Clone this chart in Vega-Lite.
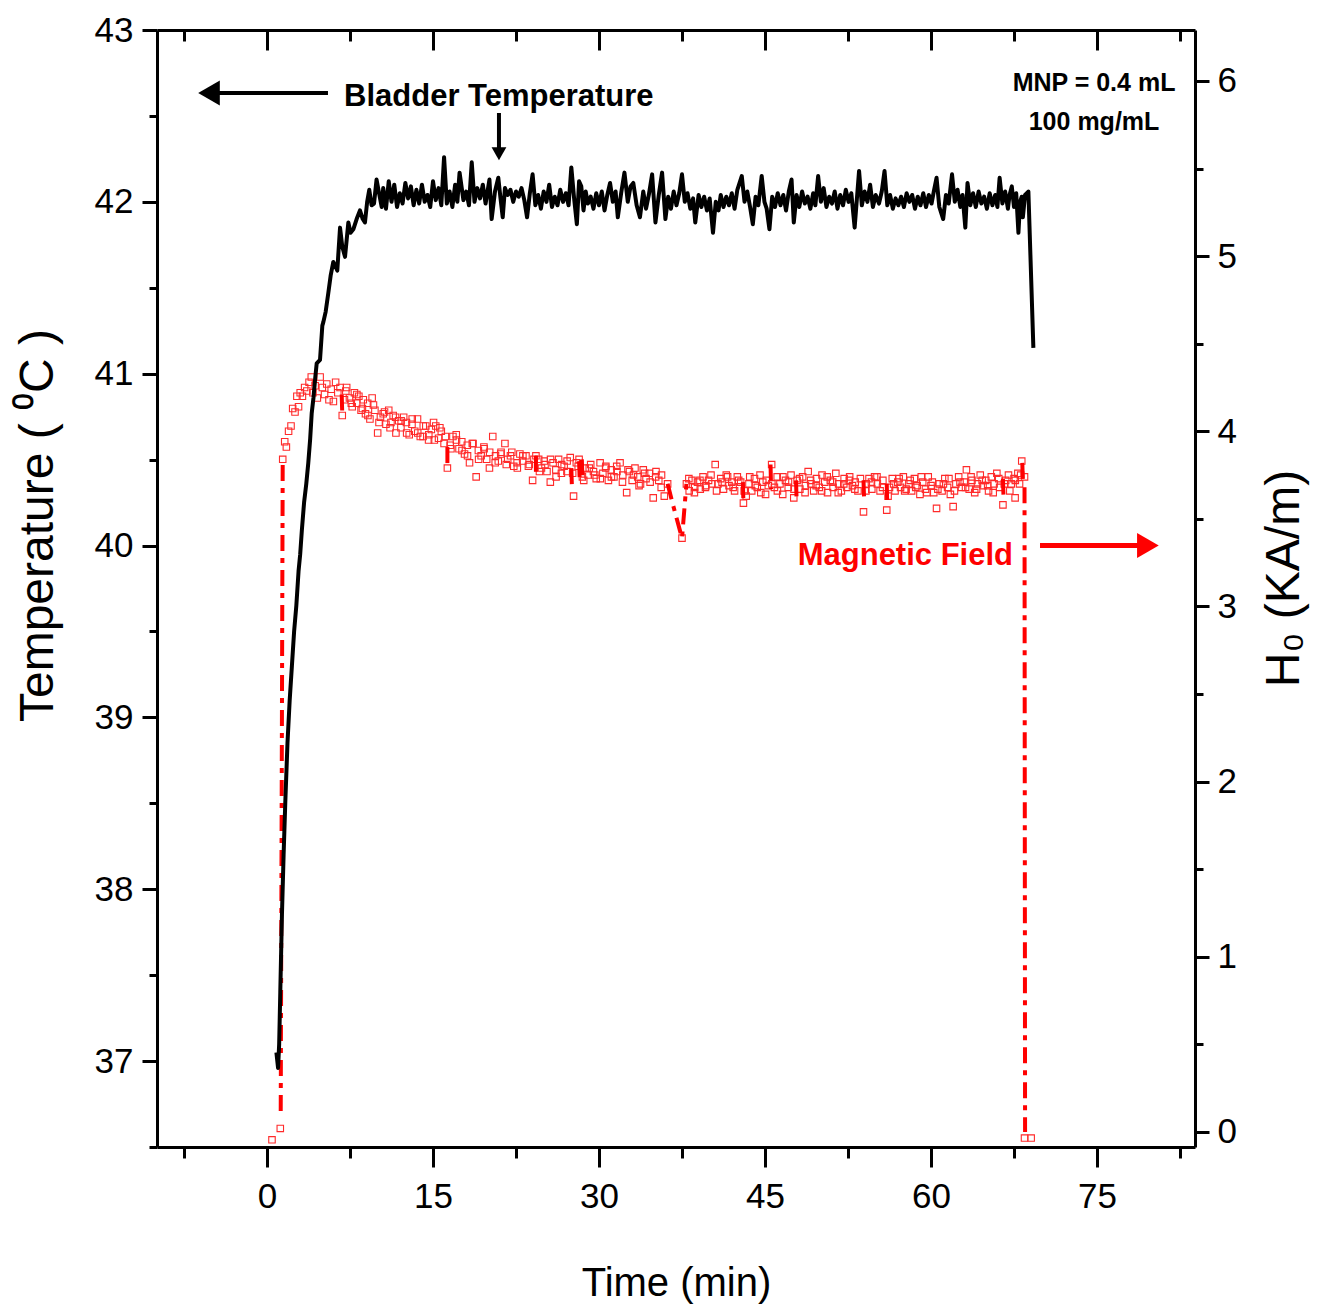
{
"$schema": "https://vega.github.io/schema/vega-lite/v6.json",
"width": 1038, "height": 1117,
"autosize": "none",
"padding": {"left": 157, "top": 30, "right": 131, "bottom": 160},
"background": "white",
"config": {
  "view": {"stroke": null},
  "axis": {"grid": false, "domainColor": "black", "domainWidth": 3, "tickColor": "black", "tickWidth": 3,
    "labelColor": "black", "labelFont": "Liberation Sans, Arial, sans-serif", "labelFontSize": 35,
    "titleColor": "black", "titleFont": "Liberation Sans, Arial, sans-serif", "titleFontWeight": "normal", "titleFontSize": 48}
},
"datasets": {
  "temp": [
    {"t":0.85,"T":37.05},{"t":1.0,"T":36.96},{"t":1.1,"T":37.1},{"t":1.2,"T":37.4},{"t":1.35,"T":37.85},{"t":1.5,"T":38.2},{"t":1.65,"T":38.5},{"t":1.85,"T":38.85},{"t":2.05,"T":39.1},{"t":2.25,"T":39.3},{"t":2.45,"T":39.5},{"t":2.65,"T":39.65},{"t":2.85,"T":39.85},{"t":3.0,"T":39.95},{"t":3.15,"T":40.09},{"t":3.35,"T":40.25},{"t":3.55,"T":40.36},{"t":3.73,"T":40.48},{"t":3.9,"T":40.62},{"t":4.04,"T":40.77},{"t":4.2,"T":40.86},{"t":4.35,"T":40.97},{"t":4.49,"T":41.06},{"t":4.79,"T":41.08},{"t":5.0,"T":41.28},{"t":5.09,"T":41.3},{"t":5.3,"T":41.36},{"t":5.54,"T":41.47},{"t":5.75,"T":41.57},{"t":5.99,"T":41.65},{"t":6.15,"T":41.63},{"t":6.35,"T":41.6},{"t":6.6,"T":41.85},{"t":6.8,"T":41.74},{"t":7.05,"T":41.68},{"t":7.35,"T":41.88},{"t":7.55,"T":41.82},{"t":7.8,"T":41.84},{"t":8.1,"T":41.9},{"t":8.4,"T":41.95},{"t":8.65,"T":41.9},{"t":8.85,"T":41.88},{"t":9.05,"T":42.0},{"t":9.24,"T":42.07},{"t":9.45,"T":41.98},{"t":9.67,"T":41.99},{"t":9.9,"T":42.13},{"t":10.1,"T":42.06},{"t":10.36,"T":41.97},
    {"t":10.5,"T":42.08},{"t":10.75,"T":41.96},{"t":11.0,"T":42.12},{"t":11.25,"T":42.0},{"t":11.5,"T":42.1},{"t":11.75,"T":41.97},{"t":12.0,"T":42.05},{"t":12.25,"T":41.99},{"t":12.5,"T":42.11},{"t":12.75,"T":42.02},{"t":13.0,"T":42.09},{"t":13.25,"T":41.98},{"t":13.5,"T":42.07},{"t":13.75,"T":41.99},{"t":14.0,"T":42.1},{"t":14.25,"T":42.0},{"t":14.5,"T":42.04},{"t":14.75,"T":41.97},{"t":15.0,"T":42.12},{"t":15.25,"T":42.01},{"t":15.5,"T":42.08},{"t":15.75,"T":41.98},{"t":16.0,"T":42.26},{"t":16.25,"T":41.99},{"t":16.5,"T":42.06},{"t":16.75,"T":41.97},{"t":17.0,"T":42.1},{"t":17.2,"T":42.0},{"t":17.4,"T":42.17},{"t":17.75,"T":42.01},{"t":18.0,"T":42.06},{"t":18.25,"T":41.98},{"t":18.5,"T":42.23},{"t":18.75,"T":42.0},{"t":19.0,"T":42.08},{"t":19.25,"T":42.02},{"t":19.5,"T":42.1},{"t":19.75,"T":41.99},{"t":20.1,"T":42.13},{"t":20.3,"T":41.9},{"t":20.6,"T":42.06},{"t":20.9,"T":42.14},{"t":21.1,"T":42.02},{"t":21.3,"T":41.91},{"t":21.5,"T":42.08},{"t":21.75,"T":42.04},{"t":22.0,"T":42.07},{"t":22.25,"T":42.0},{"t":22.5,"T":42.06},{"t":22.75,"T":42.03},{"t":23.0,"T":42.08},{"t":23.25,"T":42.01},{"t":23.5,"T":41.91},{"t":23.75,"T":42.05},{"t":24.0,"T":42.16},{"t":24.25,"T":41.98},{"t":24.5,"T":42.04},{"t":24.75,"T":41.96},{"t":25.0,"T":42.06},{"t":25.25,"T":42.0},{"t":25.5,"T":42.1},{"t":25.75,"T":41.97},{"t":26.0,"T":42.03},{"t":26.25,"T":41.98},{"t":26.5,"T":42.07},{"t":26.75,"T":42.0},{"t":27.0,"T":42.05},{"t":27.25,"T":41.98},{"t":27.5,"T":42.2},{"t":27.75,"T":42.02},{"t":28.0,"T":41.87},{"t":28.2,"T":42.12},{"t":28.4,"T":42.09},{"t":28.6,"T":41.95},{"t":28.8,"T":42.06},{"t":29.0,"T":41.99},{"t":29.25,"T":42.03},{"t":29.5,"T":41.96},{"t":29.75,"T":42.05},{"t":30.0,"T":41.98},{"t":30.25,"T":42.06},{"t":30.5,"T":41.95},{"t":30.75,"T":42.04},{"t":31.0,"T":42.11},{"t":31.25,"T":42.0},{"t":31.5,"T":42.06},{"t":31.7,"T":41.91},{"t":32.0,"T":42.05},{"t":32.3,"T":42.17},{"t":32.6,"T":42.0},{"t":32.85,"T":42.09},{"t":33.1,"T":42.11},{"t":33.4,"T":41.98},{"t":33.7,"T":41.91},{"t":34.0,"T":42.06},{"t":34.25,"T":41.96},{"t":34.5,"T":42.04},{"t":34.8,"T":42.16},{"t":35.1,"T":41.88},{"t":35.4,"T":42.04},{"t":35.7,"T":42.17},{"t":36.0,"T":41.9},{"t":36.25,"T":42.03},{"t":36.5,"T":41.96},{"t":36.75,"T":42.06},{"t":37.0,"T":41.98},{"t":37.25,"T":42.05},{"t":37.5,"T":42.16},{"t":37.75,"T":42.0},{"t":38.0,"T":42.05},{"t":38.25,"T":41.96},{"t":38.5,"T":42.02},{"t":38.7,"T":41.88},{"t":39.0,"T":42.04},{"t":39.25,"T":41.97},{"t":39.5,"T":42.03},{"t":39.75,"T":41.95},{"t":40.0,"T":42.02},{"t":40.3,"T":41.82},{"t":40.55,"T":42.0},{"t":40.8,"T":41.95},{"t":41.0,"T":42.04},{"t":41.25,"T":41.97},{"t":41.5,"T":42.03},{"t":41.75,"T":41.98},{"t":42.0,"T":42.05},{"t":42.25,"T":41.96},{"t":42.5,"T":42.07},{"t":42.9,"T":42.15},{"t":43.15,"T":42.0},{"t":43.4,"T":42.06},{"t":43.65,"T":41.97},{"t":43.9,"T":41.87},{"t":44.15,"T":42.03},{"t":44.4,"T":41.98},{"t":44.7,"T":42.15},{"t":44.95,"T":42.0},{"t":45.15,"T":41.96},{"t":45.4,"T":41.84},{"t":45.65,"T":42.03},{"t":45.9,"T":41.97},{"t":46.15,"T":42.05},{"t":46.4,"T":41.98},{"t":46.65,"T":42.04},{"t":46.9,"T":41.95},{"t":47.15,"T":42.06},{"t":47.4,"T":42.13},{"t":47.6,"T":41.88},{"t":47.85,"T":42.04},{"t":48.1,"T":41.97},{"t":48.35,"T":42.06},{"t":48.6,"T":41.99},{"t":48.85,"T":42.03},{"t":49.1,"T":41.96},{"t":49.35,"T":42.05},{"t":49.55,"T":41.98},{"t":49.8,"T":42.15},{"t":50.05,"T":42.0},{"t":50.3,"T":42.08},{"t":50.55,"T":41.97},{"t":50.8,"T":42.03},{"t":51.05,"T":41.99},{"t":51.3,"T":42.06},{"t":51.55,"T":41.96},{"t":51.8,"T":42.04},{"t":52.05,"T":41.98},{"t":52.3,"T":42.07},{"t":52.55,"T":42.0},{"t":52.8,"T":42.05},{"t":53.1,"T":41.85},{"t":53.5,"T":42.18},{"t":53.75,"T":41.98},{"t":54.0,"T":42.06},{"t":54.25,"T":42.0},{"t":54.5,"T":42.1},{"t":54.75,"T":41.97},{"t":55.0,"T":42.04},{"t":55.3,"T":41.99},{"t":55.55,"T":42.06},{"t":55.8,"T":42.18},{"t":56.05,"T":41.98},{"t":56.3,"T":42.04},{"t":56.55,"T":41.96},{"t":56.8,"T":42.02},{"t":57.05,"T":41.98},{"t":57.3,"T":42.03},{"t":57.55,"T":41.97},{"t":57.8,"T":42.05},{"t":58.05,"T":42.0},{"t":58.3,"T":42.04},{"t":58.55,"T":41.96},{"t":58.8,"T":42.03},{"t":59.05,"T":41.98},{"t":59.3,"T":42.05},{"t":59.55,"T":41.97},{"t":59.8,"T":42.04},{"t":60.05,"T":41.99},{"t":60.25,"T":42.06},{"t":60.5,"T":42.14},{"t":60.75,"T":41.97},{"t":61.1,"T":41.9},{"t":61.35,"T":42.04},{"t":61.6,"T":41.99},{"t":61.9,"T":42.16},{"t":62.15,"T":42.0},{"t":62.4,"T":42.07},{"t":62.65,"T":41.97},{"t":62.85,"T":42.04},{"t":63.1,"T":41.85},{"t":63.3,"T":42.11},{"t":63.55,"T":41.98},{"t":63.8,"T":42.05},{"t":64.05,"T":41.97},{"t":64.3,"T":42.06},{"t":64.55,"T":41.99},{"t":64.8,"T":42.03},{"t":65.05,"T":41.96},{"t":65.3,"T":42.05},{"t":65.55,"T":41.98},{"t":65.8,"T":42.04},{"t":66.0,"T":41.97},{"t":66.2,"T":42.14},{"t":66.45,"T":41.99},{"t":66.7,"T":42.06},{"t":66.95,"T":41.96},{"t":67.1,"T":42.04},{"t":67.3,"T":42.09},{"t":67.5,"T":41.97},{"t":67.7,"T":42.05},{"t":67.9,"T":41.82},{"t":68.05,"T":42.0},{"t":68.2,"T":42.03},{"t":68.3,"T":41.91},{"t":68.5,"T":42.04},{"t":68.8,"T":42.06},{"t":69.25,"T":41.15}
  ],
  "field": [
    {"t":0.45,"H":-0.045},{"t":1.2,"H":0.02},{"t":1.42,"H":3.84},{"t":1.6,"H":3.94},{"t":1.75,"H":3.91},{"t":1.95,"H":4.0},{"t":2.17,"H":4.03},{"t":2.32,"H":4.13},{"t":2.53,"H":4.11},{"t":2.7,"H":4.2},{"t":2.85,"H":4.14},{"t":3.0,"H":4.22},{"t":3.2,"H":4.2},{"t":3.4,"H":4.25},{"t":3.6,"H":4.23},{"t":3.8,"H":4.28},{"t":4.0,"H":4.31},{"t":4.15,"H":4.22},{"t":4.35,"H":4.26},{"t":4.55,"H":4.19},{"t":4.8,"H":4.31},{"t":5.0,"H":4.25},{"t":5.2,"H":4.21},{"t":5.4,"H":4.27},{"t":5.6,"H":4.18},{"t":5.8,"H":4.24},{"t":6.0,"H":4.17},{"t":6.2,"H":4.28},{"t":6.4,"H":4.22},{"t":6.6,"H":4.25},{"t":6.8,"H":4.09},{"t":7.0,"H":4.18},{"t":7.2,"H":4.25},{"t":7.45,"H":4.19},{"t":7.7,"H":4.14},{"t":7.9,"H":4.22},{"t":8.1,"H":4.16},{"t":8.3,"H":4.2},{"t":8.5,"H":4.12},{"t":8.7,"H":4.18},{"t":8.9,"H":4.1},{"t":9.1,"H":4.16},{"t":9.3,"H":4.07},{"t":9.5,"H":4.19},{"t":9.75,"H":4.12},{"t":10.0,"H":3.99},{"t":10.25,"H":4.08},{"t":10.5,"H":4.1},{"t":10.75,"H":4.04},{"t":11.0,"H":4.12},{"t":11.2,"H":4.05},{"t":11.4,"H":4.09},{"t":11.65,"H":3.99},{"t":11.9,"H":4.06},{"t":12.1,"H":4.02},{"t":12.35,"H":4.08},{"t":12.6,"H":4.05},{"t":12.85,"H":3.98},{"t":13.1,"H":4.04},{"t":13.35,"H":4.0},{"t":13.6,"H":4.07},{"t":13.85,"H":3.97},{"t":14.1,"H":3.97},{"t":14.35,"H":4.03},{"t":14.6,"H":3.95},{"t":14.85,"H":4.01},{"t":15.05,"H":4.05},{"t":15.25,"H":4.03},{"t":15.5,"H":3.96},{"t":15.75,"H":4.0},{"t":16.0,"H":3.93},{"t":16.3,"H":3.79},{"t":16.55,"H":3.92},{"t":16.8,"H":3.97},{"t":17.1,"H":3.98},{"t":17.35,"H":3.9},{"t":17.6,"H":3.94},{"t":17.85,"H":3.87},{"t":18.1,"H":3.92},{"t":18.3,"H":3.82},{"t":18.55,"H":3.93},{"t":18.9,"H":3.74},{"t":19.1,"H":3.89},{"t":19.35,"H":3.86},{"t":19.6,"H":3.91},{"t":19.85,"H":3.84},{"t":20.1,"H":3.79},{"t":20.4,"H":3.97},{"t":20.65,"H":3.86},{"t":20.9,"H":3.83},{"t":21.15,"H":3.88},{"t":21.5,"H":3.93},{"t":21.75,"H":3.84},{"t":22.0,"H":3.86},{"t":22.3,"H":3.8},{"t":22.6,"H":3.82},{"t":22.85,"H":3.87},{"t":23.1,"H":3.83},{"t":23.4,"H":3.86},{"t":23.7,"H":3.81},{"t":24.0,"H":3.72},{"t":24.3,"H":3.86},{"t":24.55,"H":3.84},{"t":24.8,"H":3.79},{"t":25.05,"H":3.83},{"t":25.3,"H":3.77},{"t":25.6,"H":3.71},{"t":25.85,"H":3.82},{"t":26.1,"H":3.78},{"t":26.35,"H":3.84},{"t":26.6,"H":3.76},{"t":26.85,"H":3.8},{"t":27.1,"H":3.77},{"t":27.4,"H":3.85},{"t":27.7,"H":3.63},{"t":27.95,"H":3.82},{"t":28.2,"H":3.84},{"t":28.5,"H":3.74},{"t":28.75,"H":3.79},{"t":29.0,"H":3.75},{"t":29.25,"H":3.81},{"t":29.5,"H":3.77},{"t":29.75,"H":3.73},{"t":30.1,"H":3.82},{"t":30.35,"H":3.76},{"t":30.6,"H":3.79},{"t":30.85,"H":3.72},{"t":31.1,"H":3.78},{"t":31.35,"H":3.74},{"t":31.6,"H":3.8},{"t":31.9,"H":3.82},{"t":32.15,"H":3.75},{"t":32.5,"H":3.65},{"t":32.75,"H":3.77},{"t":33.0,"H":3.72},{"t":33.25,"H":3.79},{"t":33.5,"H":3.74},{"t":33.75,"H":3.7},{"t":34.0,"H":3.78},{"t":34.25,"H":3.73},{"t":34.55,"H":3.76},{"t":34.9,"H":3.62},{"t":35.15,"H":3.77},{"t":35.4,"H":3.72},{"t":35.65,"H":3.75},{"t":35.9,"H":3.63},{"t":36.2,"H":3.7},{"t":37.5,"H":3.39},{"t":37.9,"H":3.7},{"t":38.15,"H":3.66},{"t":38.4,"H":3.72},{"t":38.65,"H":3.68},{"t":38.9,"H":3.71},{"t":39.15,"H":3.67},{"t":39.4,"H":3.74},{"t":39.65,"H":3.69},{"t":39.9,"H":3.72},{"t":40.2,"H":3.7},{"t":40.5,"H":3.81},{"t":40.75,"H":3.7},{"t":41.0,"H":3.73},{"t":41.25,"H":3.67},{"t":41.5,"H":3.75},{"t":41.75,"H":3.69},{"t":42.0,"H":3.71},{"t":42.25,"H":3.66},{"t":42.5,"H":3.74},{"t":42.8,"H":3.71},{"t":43.05,"H":3.59},{"t":43.3,"H":3.63},{"t":43.55,"H":3.7},{"t":43.8,"H":3.66},{"t":44.05,"H":3.73},{"t":44.3,"H":3.68},{"t":44.55,"H":3.75},{"t":44.8,"H":3.71},{"t":45.05,"H":3.64},{"t":45.3,"H":3.69},{"t":45.6,"H":3.81},{"t":45.85,"H":3.68},{"t":46.1,"H":3.74},{"t":46.35,"H":3.7},{"t":46.6,"H":3.64},{"t":46.85,"H":3.72},{"t":47.1,"H":3.68},{"t":47.35,"H":3.75},{"t":47.6,"H":3.62},{"t":47.9,"H":3.72},{"t":48.15,"H":3.67},{"t":48.4,"H":3.74},{"t":48.65,"H":3.69},{"t":48.9,"H":3.77},{"t":49.15,"H":3.7},{"t":49.4,"H":3.66},{"t":49.65,"H":3.73},{"t":49.9,"H":3.68},{"t":50.15,"H":3.75},{"t":50.4,"H":3.71},{"t":50.65,"H":3.65},{"t":50.9,"H":3.72},{"t":51.15,"H":3.68},{"t":51.4,"H":3.76},{"t":51.65,"H":3.7},{"t":51.9,"H":3.66},{"t":52.15,"H":3.73},{"t":52.4,"H":3.68},{"t":52.65,"H":3.74},{"t":52.9,"H":3.69},{"t":53.15,"H":3.71},{"t":53.4,"H":3.66},{"t":53.9,"H":3.54},{"t":54.15,"H":3.7},{"t":54.4,"H":3.73},{"t":54.65,"H":3.67},{"t":54.9,"H":3.74},{"t":55.15,"H":3.7},{"t":55.4,"H":3.66},{"t":55.65,"H":3.72},{"t":56.0,"H":3.55},{"t":56.25,"H":3.68},{"t":56.5,"H":3.73},{"t":56.75,"H":3.66},{"t":57.0,"H":3.71},{"t":57.25,"H":3.68},{"t":57.5,"H":3.74},{"t":57.75,"H":3.67},{"t":58.0,"H":3.7},{"t":58.25,"H":3.66},{"t":58.5,"H":3.73},{"t":58.75,"H":3.69},{"t":59.0,"H":3.64},{"t":59.25,"H":3.71},{"t":59.5,"H":3.67},{"t":59.75,"H":3.74},{"t":60.0,"H":3.69},{"t":60.25,"H":3.65},{"t":60.5,"H":3.56},{"t":60.75,"H":3.7},{"t":61.0,"H":3.66},{"t":61.25,"H":3.73},{"t":61.5,"H":3.68},{"t":61.75,"H":3.64},{"t":62.0,"H":3.57},{"t":62.25,"H":3.7},{"t":62.5,"H":3.74},{"t":62.75,"H":3.68},{"t":63.0,"H":3.71},{"t":63.2,"H":3.78},{"t":63.45,"H":3.67},{"t":63.7,"H":3.72},{"t":63.95,"H":3.65},{"t":64.2,"H":3.7},{"t":64.45,"H":3.75},{"t":64.7,"H":3.69},{"t":64.95,"H":3.72},{"t":65.2,"H":3.66},{"t":65.45,"H":3.74},{"t":65.7,"H":3.7},{"t":65.95,"H":3.76},{"t":66.2,"H":3.68},{"t":66.5,"H":3.58},{"t":66.75,"H":3.72},{"t":67.0,"H":3.75},{"t":67.25,"H":3.7},{"t":67.5,"H":3.73},{"t":67.6,"H":3.62},{"t":67.85,"H":3.76},{"t":68.0,"H":3.7},{"t":68.2,"H":3.83},{"t":68.45,"H":3.74},{"t":68.45,"H":-0.035},{"t":69.05,"H":-0.035},
    {"t":7.12,"H":4.23},{"t":7.62,"H":4.16},{"t":8.12,"H":4.21},{"t":8.62,"H":4.13},{"t":9.12,"H":4.09},{"t":9.62,"H":4.15},{"t":10.12,"H":4.05},{"t":10.62,"H":4.11},{"t":11.12,"H":4.02},{"t":11.62,"H":4.08},{"t":12.12,"H":4.06},{"t":12.62,"H":3.99},{"t":13.12,"H":4.07},{"t":13.62,"H":3.99},{"t":14.12,"H":4.03},{"t":14.62,"H":3.98},{"t":15.12,"H":3.95},{"t":15.62,"H":4.02},{"t":16.12,"H":3.97},{"t":16.62,"H":3.9},{"t":17.12,"H":3.95},{"t":17.62,"H":3.89},{"t":18.12,"H":3.86},{"t":18.62,"H":3.93},{"t":19.12,"H":3.84},{"t":19.62,"H":3.9},{"t":20.12,"H":3.88},{"t":20.62,"H":3.82},{"t":21.12,"H":3.87},{"t":21.62,"H":3.81},{"t":22.12,"H":3.88},{"t":22.62,"H":3.79},{"t":23.12,"H":3.86},{"t":23.62,"H":3.8},{"t":24.12,"H":3.84},{"t":24.62,"H":3.77},{"t":25.12,"H":3.81},{"t":25.62,"H":3.84},{"t":26.12,"H":3.74},{"t":26.62,"H":3.81},{"t":27.12,"H":3.83},{"t":27.62,"H":3.76},{"t":28.12,"H":3.8},{"t":28.62,"H":3.72},{"t":29.12,"H":3.79},{"t":29.62,"H":3.75},{"t":30.12,"H":3.73},{"t":30.62,"H":3.8},{"t":31.12,"H":3.74},{"t":31.62,"H":3.77},{"t":32.12,"H":3.71},{"t":32.62,"H":3.78},{"t":33.12,"H":3.75},{"t":33.62,"H":3.69},{"t":34.12,"H":3.76},{"t":34.62,"H":3.71},{"t":35.12,"H":3.74},{"t":35.62,"H":3.68},{"t":38.12,"H":3.73},{"t":38.62,"H":3.65},{"t":39.12,"H":3.72},{"t":39.62,"H":3.68},{"t":40.12,"H":3.75},{"t":40.62,"H":3.66},{"t":41.12,"H":3.71},{"t":41.62,"H":3.74},{"t":42.12,"H":3.68},{"t":42.62,"H":3.72},{"t":43.12,"H":3.66},{"t":43.62,"H":3.74},{"t":44.12,"H":3.69},{"t":44.62,"H":3.65},{"t":45.12,"H":3.72},{"t":45.62,"H":3.7},{"t":46.12,"H":3.66},{"t":46.62,"H":3.74},{"t":47.12,"H":3.71},{"t":47.62,"H":3.67},{"t":48.12,"H":3.73},{"t":48.62,"H":3.65},{"t":49.12,"H":3.72},{"t":49.62,"H":3.69},{"t":50.12,"H":3.66},{"t":50.62,"H":3.74},{"t":51.12,"H":3.71},{"t":51.62,"H":3.65},{"t":52.12,"H":3.7},{"t":52.62,"H":3.72},{"t":53.12,"H":3.67},{"t":53.62,"H":3.73},{"t":54.12,"H":3.66},{"t":54.62,"H":3.71},{"t":55.12,"H":3.74},{"t":55.62,"H":3.68},{"t":56.12,"H":3.63},{"t":56.62,"H":3.7},{"t":57.12,"H":3.73},{"t":57.62,"H":3.66},{"t":58.12,"H":3.72},{"t":58.62,"H":3.68},{"t":59.12,"H":3.74},{"t":59.62,"H":3.65},{"t":60.12,"H":3.71},{"t":60.62,"H":3.67},{"t":61.12,"H":3.7},{"t":61.62,"H":3.73},{"t":62.12,"H":3.66},{"t":62.62,"H":3.71},{"t":63.12,"H":3.68},{"t":63.62,"H":3.74},{"t":64.12,"H":3.67},{"t":64.62,"H":3.72},{"t":65.12,"H":3.69},{"t":65.62,"H":3.65},{"t":66.12,"H":3.73},{"t":66.62,"H":3.7},{"t":67.12,"H":3.66},{"t":67.62,"H":3.72},{"t":68.1,"H":3.75}
  ],
  "segs": [
    {"g":"start","t":1.24,"H":0.12},{"t":1.42,"H":3.84,"g":"start"},
    {"g":"s1","t":6.75,"H":4.21},{"g":"s1","t":6.8,"H":4.1},
    {"g":"s2","t":16.3,"H":3.91},{"g":"s2","t":16.3,"H":3.79},
    {"g":"s3","t":24.3,"H":3.86},{"g":"s3","t":24.3,"H":3.76},
    {"g":"s4","t":27.5,"H":3.79},{"g":"s4","t":27.55,"H":3.69},
    {"g":"s5","t":28.2,"H":3.83},{"g":"s5","t":28.25,"H":3.73},
    {"g":"s6","t":28.45,"H":3.84},{"g":"s6","t":28.5,"H":3.74},
    {"g":"dip","t":36.2,"H":3.7},{"g":"dip","t":36.6,"H":3.6},{"g":"dip","t":37.5,"H":3.39},{"g":"dip","t":37.9,"H":3.7},
    {"g":"s7","t":43.0,"H":3.71},{"g":"s7","t":43.05,"H":3.59},
    {"g":"s8","t":45.5,"H":3.81},{"g":"s8","t":45.55,"H":3.67},
    {"g":"s9","t":47.8,"H":3.72},{"g":"s9","t":47.85,"H":3.62},
    {"g":"s10","t":53.9,"H":3.72},{"g":"s10","t":53.95,"H":3.62},
    {"g":"s11","t":56.0,"H":3.7},{"g":"s11","t":56.05,"H":3.57},
    {"g":"s12","t":66.5,"H":3.73},{"g":"s12","t":66.55,"H":3.63},
    {"g":"s13","t":68.25,"H":3.82},{"g":"s13","t":68.3,"H":3.72},
    {"g":"end","t":68.45,"H":3.68},{"g":"end","t":68.5,"H":0.0}
  ],
  "notes": [
    {"kind":"big","label":"Bladder Temperature","t":6.96,"T":42.56},
    {"kind":"small","label":"MNP = 0.4 mL","t":74.73,"T":42.645},
    {"kind":"small","label":"100 mg/mL","t":74.73,"T":42.419},
    {"kind":"red","label":"Magnetic Field","t":67.41,"T":39.884}
  ],
  "arrows": [
    {"id":"left","t1":-5.15,"t2":5.51,"T1":42.634,"T2":42.634},
    {"id":"down","t1":20.96,"t2":20.96,"T1":42.517,"T2":42.31},
    {"id":"red","t1":69.85,"t2":79.06,"T1":40.0,"T2":40.0}
  ],
  "heads": [
    {"id":"left","t":-5.24,"T":42.634},
    {"id":"down","t":20.96,"T":42.28},
    {"id":"red","t":79.6,"T":40.0}
  ]
},
"resolve": {"scale": {"y": "independent"}, "axis": {"x": "independent", "y": "independent"}},
"layer": [
  {
    "data": {"name": "field"},
    "mark": {"type": "point", "shape": "square", "filled": false, "stroke": "#ff2a2a", "strokeWidth": 1.1, "size": 42, "opacity": 1},
    "encoding": {
      "x": {"field": "t", "type": "quantitative", "scale": {"domain": [-9.94, 83.855], "nice": false, "zero": false}, "axis": null},
      "y": {"field": "H", "type": "quantitative", "scale": {"domain": [-0.086, 6.291], "nice": false, "zero": false},
        "axis": {"orient": "right", "values": [0.5, 1.5, 2.5, 3.5, 4.5, 5.5], "labels": false, "domain": false, "tickSize": 8, "title": null}}
    }
  },
  {
    "data": {"name": "segs"},
    "mark": {"type": "line", "color": "#ff0000", "strokeWidth": 4, "strokeDash": [16, 7, 5, 7]},
    "encoding": {
      "x": {"field": "t", "type": "quantitative", "scale": {"domain": [-9.94, 83.855], "nice": false, "zero": false}, "axis": null},
      "y": {"field": "H", "type": "quantitative", "scale": {"domain": [-0.086, 6.291], "nice": false, "zero": false},
        "axis": {"orient": "right", "values": [0, 1, 2, 3, 4, 5, 6], "format": "d", "tickSize": 14, "labelPadding": 8,
          "title": "H₀ (KA/m)", "titleAngle": 270, "titleAlign": "center", "titleBaseline": "alphabetic", "titleX": 103, "titleY": 548}},
      "detail": {"field": "g"},
      "order": {"field": "t"}
    }
  },
  {
    "data": {"name": "temp"},
    "mark": {"type": "line", "color": "black", "strokeWidth": 4, "strokeJoin": "round"},
    "encoding": {
      "x": {"field": "t", "type": "quantitative", "scale": {"domain": [-9.94, 83.855], "nice": false, "zero": false},
        "axis": {"orient": "bottom", "values": [0, 15, 30, 45, 60, 75], "format": "d", "tickSize": 20, "labelPadding": 12,
          "title": "Time (min)", "titleFontSize": 40,
          "titleAlign": "center", "titleBaseline": "alphabetic", "titleX": 519, "titleY": 148}},
      "y": {"field": "T", "type": "quantitative", "scale": {"domain": [36.5, 43], "nice": false, "zero": false},
        "axis": {"orient": "left", "values": [37, 38, 39, 40, 41, 42, 43], "format": "d", "tickSize": 15, "labelPadding": 9,
          "title": "Temperature ( ⁰C )", "titleAngle": 270, "titleAlign": "center", "titleBaseline": "alphabetic", "titleX": -105, "titleY": 495}},
      "order": {"field": "t"}
    }
  },
  {
    "data": {"name": "notes"},
    "transform": [{"filter": "datum.kind === 'big'"}],
    "mark": {"type": "text", "align": "left", "baseline": "alphabetic", "font": "Liberation Sans, Arial, sans-serif", "fontSize": 31, "fontWeight": "bold", "color": "black"},
    "encoding": {
      "x": {"field": "t", "type": "quantitative", "scale": {"domain": [-9.94, 83.855], "nice": false, "zero": false},
        "axis": {"orient": "bottom", "values": [-7.5, 7.5, 22.5, 37.5, 52.5, 67.5, 82.5], "labels": false, "domain": false, "tickSize": 11, "title": null}},
      "y": {"field": "T", "type": "quantitative", "scale": {"domain": [36.5, 43], "nice": false, "zero": false},
        "axis": {"orient": "left", "values": [36.5, 37.5, 38.5, 39.5, 40.5, 41.5, 42.5], "labels": false, "domain": false, "tickSize": 8, "title": null}},
      "text": {"field": "label"}
    }
  },
  {
    "data": {"name": "notes"},
    "transform": [{"filter": "datum.kind === 'small'"}],
    "mark": {"type": "text", "align": "center", "baseline": "alphabetic", "font": "Liberation Sans, Arial, sans-serif", "fontSize": 25, "fontWeight": "bold", "color": "black"},
    "encoding": {
      "x": {"field": "t", "type": "quantitative", "scale": {"domain": [-9.94, 83.855], "nice": false, "zero": false},
        "axis": {"orient": "top", "values": [0, 15, 30, 45, 60, 75], "labels": false, "tickSize": -20, "title": null}},
      "y": {"field": "T", "type": "quantitative", "scale": {"domain": [36.5, 43], "nice": false, "zero": false}, "axis": null},
      "text": {"field": "label"}
    }
  },
  {
    "data": {"name": "notes"},
    "transform": [{"filter": "datum.kind === 'red'"}],
    "mark": {"type": "text", "align": "right", "baseline": "alphabetic", "font": "Liberation Sans, Arial, sans-serif", "fontSize": 31, "fontWeight": "bold", "color": "#ff0000"},
    "encoding": {
      "x": {"field": "t", "type": "quantitative", "scale": {"domain": [-9.94, 83.855], "nice": false, "zero": false},
        "axis": {"orient": "top", "values": [-7.5, 7.5, 22.5, 37.5, 52.5, 67.5, 82.5], "labels": false, "domain": false, "tickSize": -11, "title": null}},
      "y": {"field": "T", "type": "quantitative", "scale": {"domain": [36.5, 43], "nice": false, "zero": false}, "axis": null},
      "text": {"field": "label"}
    }
  },
  {
    "data": {"name": "arrows"},
    "transform": [{"filter": "datum.id !== 'red'"}],
    "mark": {"type": "rule", "color": "black", "strokeWidth": 4},
    "encoding": {
      "x": {"field": "t1", "type": "quantitative", "scale": {"domain": [-9.94, 83.855], "nice": false, "zero": false}, "axis": null},
      "x2": {"field": "t2"},
      "y": {"field": "T1", "type": "quantitative", "scale": {"domain": [36.5, 43], "nice": false, "zero": false}, "axis": null},
      "y2": {"field": "T2"}
    }
  },
  {
    "data": {"name": "arrows"},
    "transform": [{"filter": "datum.id === 'red'"}],
    "mark": {"type": "rule", "color": "#ff0000", "strokeWidth": 5},
    "encoding": {
      "x": {"field": "t1", "type": "quantitative", "scale": {"domain": [-9.94, 83.855], "nice": false, "zero": false}, "axis": null},
      "x2": {"field": "t2"},
      "y": {"field": "T1", "type": "quantitative", "scale": {"domain": [36.5, 43], "nice": false, "zero": false}, "axis": null},
      "y2": {"field": "T2"}
    }
  },
  {
    "data": {"name": "heads"},
    "transform": [{"filter": "datum.id === 'left'"}],
    "mark": {"type": "point", "shape": "triangle-left", "filled": true, "color": "black", "size": 625, "opacity": 1, "strokeWidth": 0},
    "encoding": {
      "x": {"field": "t", "type": "quantitative", "scale": {"domain": [-9.94, 83.855], "nice": false, "zero": false}, "axis": null},
      "y": {"field": "T", "type": "quantitative", "scale": {"domain": [36.5, 43], "nice": false, "zero": false}, "axis": null}
    }
  },
  {
    "data": {"name": "heads"},
    "transform": [{"filter": "datum.id === 'down'"}],
    "mark": {"type": "point", "shape": "triangle-down", "filled": true, "color": "black", "size": 220, "opacity": 1, "strokeWidth": 0},
    "encoding": {
      "x": {"field": "t", "type": "quantitative", "scale": {"domain": [-9.94, 83.855], "nice": false, "zero": false}, "axis": null},
      "y": {"field": "T", "type": "quantitative", "scale": {"domain": [36.5, 43], "nice": false, "zero": false}, "axis": null}
    }
  },
  {
    "data": {"name": "heads"},
    "transform": [{"filter": "datum.id === 'red'"}],
    "mark": {"type": "point", "shape": "triangle-right", "filled": true, "color": "#ff0000", "size": 625, "opacity": 1, "strokeWidth": 0},
    "encoding": {
      "x": {"field": "t", "type": "quantitative", "scale": {"domain": [-9.94, 83.855], "nice": false, "zero": false}, "axis": null},
      "y": {"field": "T", "type": "quantitative", "scale": {"domain": [36.5, 43], "nice": false, "zero": false}, "axis": null}
    }
  }
]
}
